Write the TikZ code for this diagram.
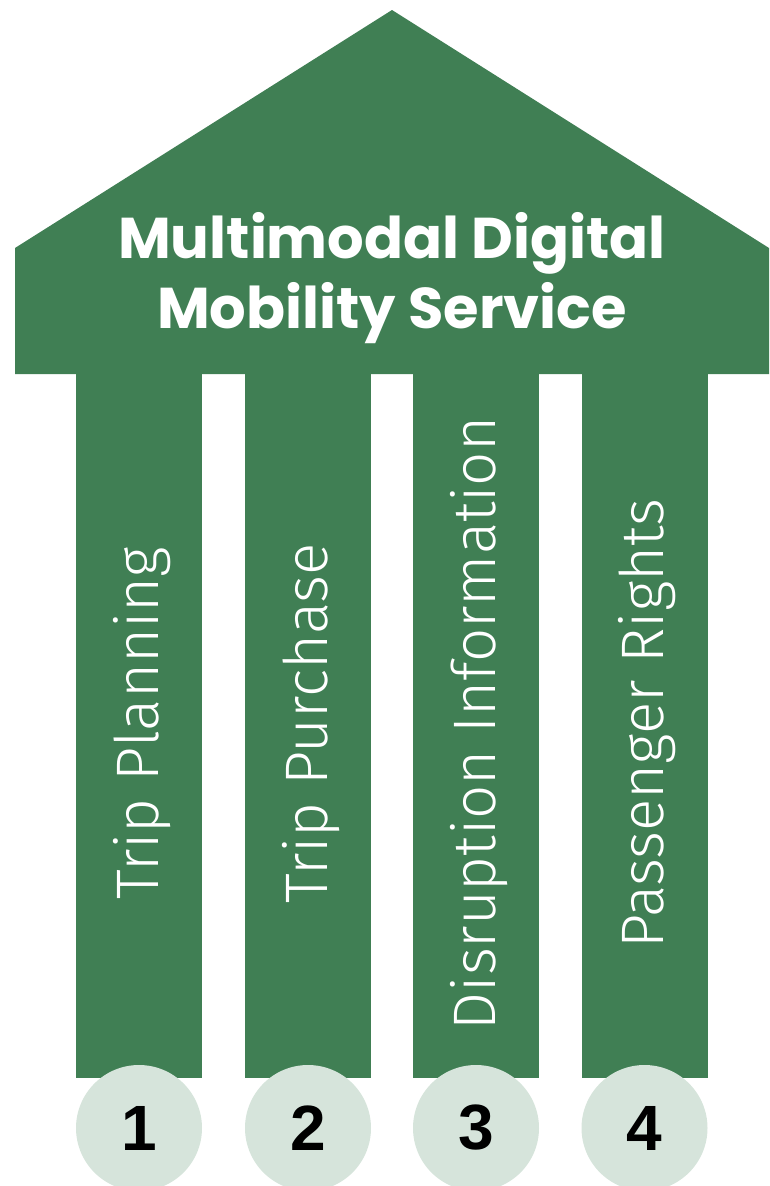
\documentclass[tikz,border=0pt]{standalone}
\usepackage{fontspec}
\setmainfont{Fira Sans}
\newfontfamily\titlefont{Poppins}
\newfontfamily\pillarfont{Fira Sans Light}
\newfontfamily\numfont{Liberation Sans}
\usetikzlibrary{positioning}
\definecolor{pillargreen}{RGB}{64,127,84}
\definecolor{discgrey}{RGB}{214,228,219}

\begin{document}
\begin{tikzpicture}[
        x=1pt, y=-1pt,
        every node/.style={inner sep=0pt, outer sep=0pt},
        ]
        \tikzstyle{pillar} = [fill=pillargreen, minimum width=126pt, minimum height=705pt, anchor=north];
        \tikzstyle{caption} = [text=white, rotate=90, anchor=base, font={\pillarfont\fontsize{60}{60}\selectfont}];
        \tikzstyle{disc} = [circle, fill=discgrey, minimum size=126pt, font={\numfont\bfseries\fontsize{64}{64}\selectfont}];
        \tikzstyle{heading} = [text=white, anchor=base, font={\titlefont\bfseries\fontsize{57.5}{57.5}\selectfont}];
        \useasboundingbox (0,0) rectangle (770,1186);
        \fill[pillargreen] (15,374) -- (15,248) -- (392,10) -- (769,248) -- (769,374) -- cycle;
        \node [heading] (title1) at (392,258) {Multimodal Digital};
        \node [heading] (title2) at (392,328) {Mobility Service};
        \node [pillar] (p1) at (139,373) {};
        \node [pillar] (p2) at (308,373) {};
        \node [pillar] (p3) at (476,373) {};
        \node [pillar] (p4) at (644.5,373) {};
        \node [caption] (t1) at ([xshift=19pt, yshift=2pt]p1.center) {Trip Planning};
        \node [caption] (t2) at ([xshift=19pt, yshift=2pt]p2.center) {Trip Purchase};
        \node [caption] (t3) at ([xshift=19pt, yshift=2pt]p3.center) {Disruption Information};
        \node [caption] (t4) at ([xshift=19pt, yshift=2pt]p4.center) {Passenger Rights};
        \node [disc] (d1) at (139,1128) {1};
        \node [disc] (d2) at (308,1128) {2};
        \node [disc] (d3) at (476,1128) {3};
        \node [disc] (d4) at (644.5,1128) {4};
    \end{tikzpicture}
\end{document}
